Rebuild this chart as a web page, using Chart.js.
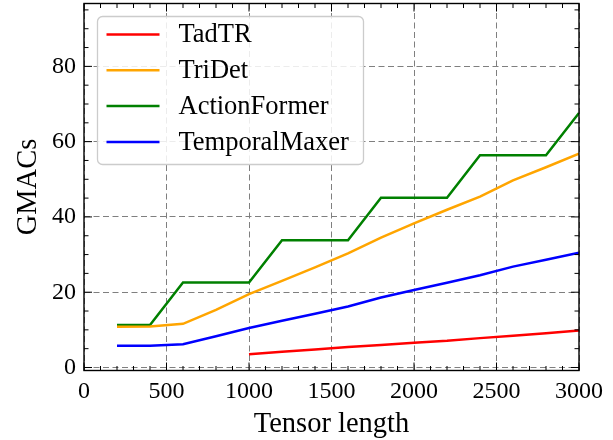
<!DOCTYPE html>
<html>
<head>
<meta charset="utf-8">
<script src="https://cdn.jsdelivr.net/npm/chart.js@4"></script>
<style>
  html, body { margin: 0; padding: 0; background: #ffffff; }
  #wrap { width: 613px; height: 440px; }
</style>
</head>
<body>
<div id="wrap"><canvas id="chart" width="613" height="440"></canvas></div>
<script>
const tensorLengths = [200, 400, 600, 800, 1000, 1200, 1400, 1600, 1800, 2000, 2200, 2400, 2600, 2800, 3000];
const tadtr = [null, null, null, null, 3.5, 4.15, 4.8, 5.45, 6.0, 6.6, 7.1, 7.8, 8.45, 9.1, 9.8];
const tridet = [10.8, 10.9, 11.6, 15.3, 19.5, 23.0, 26.6, 30.3, 34.5, 38.3, 41.9, 45.4, 49.7, 53.2, 56.8];
const actionFormer = [11.3, 11.3, 22.6, 22.6, 22.6, 33.8, 33.8, 33.8, 45.1, 45.1, 45.1, 56.4, 56.4, 56.4, 67.6];
const temporalMaxer = [5.8, 5.8, 6.2, 8.3, 10.5, 12.4, 14.3, 16.2, 18.6, 20.6, 22.5, 24.5, 26.8, 28.6, 30.5];

const xTicks = [0, 500, 1000, 1500, 2000, 2500, 3000];
const yTicks = [0, 20, 40, 60, 80];

const FONT = "'Liberation Serif', 'DejaVu Serif', serif";

function toPoints(values) {
  return tensorLengths.map((x, i) => ({ x, y: values[i] }));
}

function makeSeries(label, values, color) {
  return {
    label,
    data: toPoints(values),
    borderColor: color,
    backgroundColor: color,
    borderWidth: 2.5,
    pointRadius: 0,
    tension: 0,
    spanGaps: false,
  };
}

// matplotlib style frame: spines on all four sides, ticks pointing inward
const framePlugin = {
  id: "frame",
  afterDatasetsDraw(chart) {
    const { ctx, chartArea: a, scales } = chart;
    const xs = scales.x;
    const ys = scales.y;
    ctx.save();
    ctx.strokeStyle = "#000000";
    ctx.lineWidth = 1;

    const tick = (x1, y1, x2, y2) => {
      ctx.beginPath();
      ctx.moveTo(x1, y1);
      ctx.lineTo(x2, y2);
      ctx.stroke();
    };

    for (let v = 0; v <= 3000; v += 100) {
      const px = xs.getPixelForValue(v);
      const len = v % 500 === 0 ? 8 : 4.5;
      tick(px, a.bottom, px, a.bottom - len);
      tick(px, a.top, px, a.top + len);
    }
    for (let v = 0; v <= 95; v += 5) {
      const py = ys.getPixelForValue(v);
      const len = v % 20 === 0 ? 8 : 4.5;
      tick(a.left, py, a.left + len, py);
      tick(a.right, py, a.right - len, py);
    }

    ctx.lineWidth = 1.4;
    ctx.strokeRect(a.left, a.top, a.right - a.left, a.bottom - a.top);
    ctx.restore();
  },
};

const legendPlugin = {
  id: "boxLegend",
  afterDraw(chart) {
    const { ctx, chartArea: a } = chart;
    const left = a.left + 13.5;
    const top = a.top + 13;
    const width = 266;
    const height = 148;
    const rowGap = 35.8;

    ctx.save();
    ctx.beginPath();
    ctx.roundRect(left, top, width, height, 5);
    ctx.fillStyle = "rgba(255,255,255,0.85)";
    ctx.fill();
    ctx.strokeStyle = "#cccccc";
    ctx.lineWidth = 1.3;
    ctx.stroke();

    ctx.font = "26.5px " + FONT;
    ctx.textBaseline = "middle";
    ctx.textAlign = "left";
    chart.data.datasets.forEach((ds, i) => {
      const y = top + 18 + i * rowGap;
      ctx.strokeStyle = ds.borderColor;
      ctx.lineWidth = 2.5;
      ctx.beginPath();
      ctx.moveTo(left + 9, y);
      ctx.lineTo(left + 62, y);
      ctx.stroke();
      ctx.fillStyle = "#000000";
      ctx.fillText(ds.label, left + 81, y + 1);
    });
    ctx.restore();
  },
};

const gridStyle = {
  color: "#7f7f7f",
  lineWidth: 1,
  drawTicks: false,
};

const borderStyle = { display: false, dash: [6, 3.5] };

new Chart(document.getElementById("chart"), {
  type: "line",
  data: {
    datasets: [
      makeSeries("TadTR", tadtr, "#ff0000"),
      makeSeries("TriDet", tridet, "#ffa500"),
      makeSeries("ActionFormer", actionFormer, "#008000"),
      makeSeries("TemporalMaxer", temporalMaxer, "#0000ff"),
    ],
  },
  options: {
    responsive: false,
    animation: false,
    layout: { padding: { top: 3.5, right: 34, left: 0, bottom: 0 } },
    plugins: {
      legend: { display: false },
      tooltip: { enabled: false },
    },
    scales: {
      x: {
        type: "linear",
        min: 0,
        max: 3000,
        afterBuildTicks: (scale) => {
          scale.ticks = xTicks.map((value) => ({ value }));
        },
        afterFit: (scale) => {
          scale.height = 69.5;
          scale.paddingLeft = 0;
          scale.paddingRight = 0;
        },
        grid: gridStyle,
        border: borderStyle,
        ticks: {
          color: "#000000",
          padding: 7,
          maxRotation: 0,
          autoSkip: false,
          font: { family: FONT, size: 24 },
          callback: (value) => String(value),
        },
        title: {
          display: true,
          text: "Tensor length",
          color: "#000000",
          font: { family: FONT, size: 28.5, lineHeight: 1 },
          padding: { top: 0, bottom: 1.5 },
        },
      },
      y: {
        type: "linear",
        min: -0.8,
        max: 96.7,
        afterBuildTicks: (scale) => {
          scale.ticks = yTicks.map((value) => ({ value }));
        },
        afterFit: (scale) => {
          scale.width = 84;
          scale.paddingTop = 0;
          scale.paddingBottom = 0;
        },
        grid: gridStyle,
        border: borderStyle,
        ticks: {
          color: "#000000",
          padding: 8,
          font: { family: FONT, size: 24 },
          callback: (value) => String(value),
        },
        title: {
          display: true,
          text: "GMACs",
          color: "#000000",
          font: { family: FONT, size: 28.5, lineHeight: 1 },
          padding: { top: 14, bottom: 0 },
        },
      },
    },
  },
  plugins: [framePlugin, legendPlugin],
});
</script>
</body>
</html>
